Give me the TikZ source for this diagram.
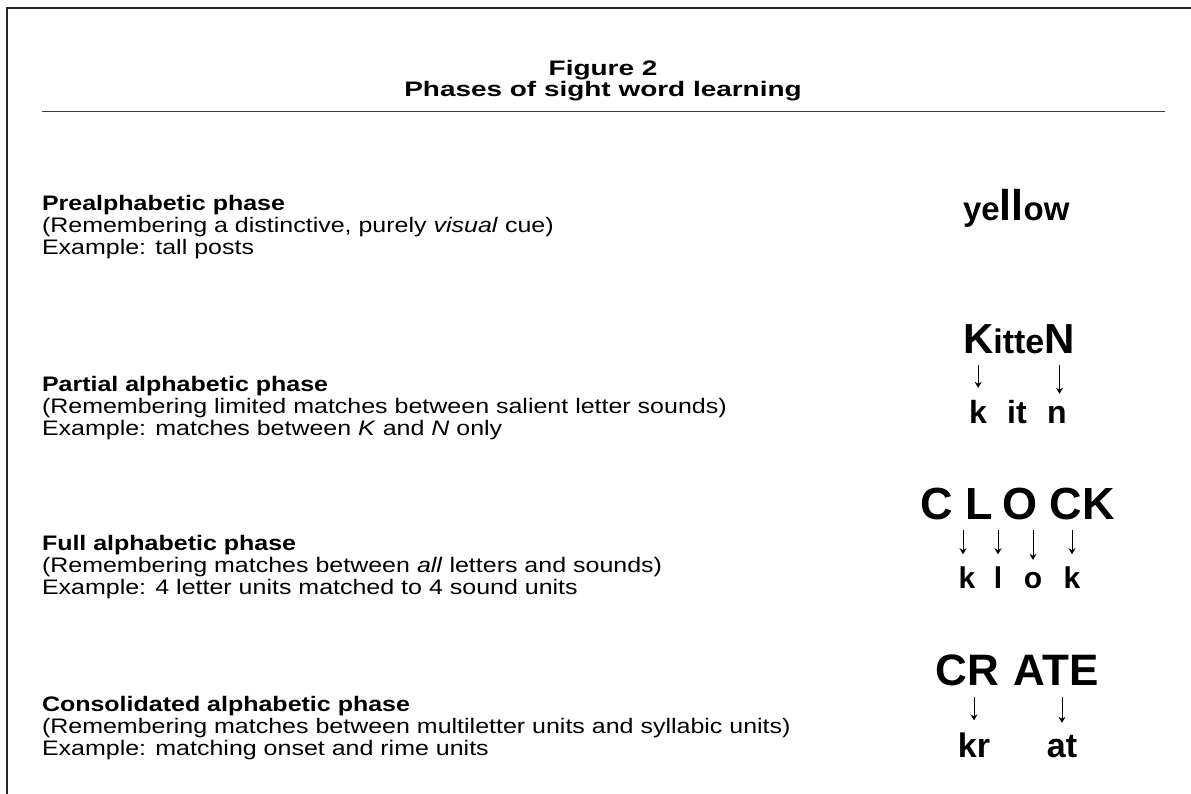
\documentclass[tikz,border=0pt]{standalone}
\usepackage{fontspec}
\setmainfont{Liberation Sans}
\usepackage{graphicx}
\usetikzlibrary{arrows.meta}
\newcommand\bodyx[1]{\scalebox{1.19}[1]{#1}}
\newcommand\titlex[1]{\scalebox{1.33}[1]{#1}}
\begin{document}
\begin{tikzpicture}[x=1pt,y=-1pt,
  every node/.style={inner sep=0pt, outer sep=0pt},
  bodytxt/.style={anchor=base west, font=\fontsize{21}{22}\selectfont},
  headtxt/.style={anchor=base west, font=\fontsize{21}{22}\selectfont\bfseries},
  titletxt/.style={anchor=base, font=\fontsize{21}{22}\selectfont\bfseries},
  big/.style={anchor=base, font=\fontsize{#1}{#1}\selectfont\bfseries},
  arr/.style={-{Stealth[length=6pt,width=7pt]}, line width=1pt, shorten >=#1},
  arr/.default=0pt]
\useasboundingbox (0,0) rectangle (1191,794);
\fill[white] (0,0) rectangle (1191,794);
% frame
\coordinate (fTL) at (7,8);
\coordinate (fTR) at (1191,8);
\coordinate (fBL) at (7,794);
\draw[line width=2.2pt, black!85] (fBL) -- (fTL) -- (fTR);
% title
\node[titletxt] (t1) at (603,76) {\titlex{Figure 2}};
\node[titletxt] (t2) at (603,96.5) {\titlex{Phases of sight word learning}};
\coordinate (rL) at (42,112);
\coordinate (rR) at (1165,112);
\draw[line width=1pt, black!75] (rL) -- (rR);
% section 1
\node[headtxt] (a1) at (42,211) {\bodyx{Prealphabetic phase}};
\node[bodytxt] (a2) at (42,233) {\bodyx{(Remembering a distinctive, purely \textit{visual} cue)}};
\node[bodytxt] (a3) at (42,255) {\bodyx{Example: tall posts}};
% section 2
\node[headtxt] (b1) at (42,391) {\bodyx{Partial alphabetic phase}};
\node[bodytxt] (b2) at (42,413) {\bodyx{(Remembering limited matches between salient letter sounds)}};
\node[bodytxt] (b3) at (42,435) {\bodyx{Example: matches between \textit{K} and \textit{N} only}};
% section 3
\node[headtxt] (c1) at (42,550) {\bodyx{Full alphabetic phase}};
\node[bodytxt] (c2) at (42,572) {\bodyx{(Remembering matches between \textit{all} letters and sounds)}};
\node[bodytxt] (c3) at (42,594) {\bodyx{Example: 4 letter units matched to 4 sound units}};
% section 4
\node[headtxt] (d1) at (42,711) {\bodyx{Consolidated alphabetic phase}};
\node[bodytxt] (d2) at (42,733) {\bodyx{(Remembering matches between multiletter units and syllabic units)}};
\node[bodytxt] (d3) at (42,755) {\bodyx{Example: matching onset and rime units}};
% yellow
\node[big=33, anchor=base west] (ye) at (963,221) {ye};
\node[big=43, anchor=base west] (ll) at (ye.base east) {ll};
\node[big=33, anchor=base west] (ow) at (ll.base east) {ow};
% KitteN
\node[big=42, anchor=base west] (K) at (963,353) {K};
\node[big=34, anchor=base west] (itte) at (K.base east) {itte};
\node[big=42, anchor=base west] (N) at (itte.base east) {N};
\node[big=32] (k2) at (978,423) {k};
\node[big=32] (it2) at (1017,423) {it};
\node[big=32] (n2) at (1057,423) {n};
\draw[arr=12pt] ([yshift=-12pt]K.south) -- (K.south |- k2.north);
\draw[arr=12pt] ([yshift=-12pt]N.south) -- (N.south |- n2.north);
% CLOCK
\node[big=45] (C1) at (937,519) {C};
\node[big=45] (L1) at (979,519) {L};
\node[big=45] (O1) at (1020,519) {O};
\node[big=45] (CK) at (1082,519) {CK};
\node[big=30] (k3) at (967,588) {k};
\node[big=30] (l3) at (998,588) {l};
\node[big=30] (o3) at (1033,588) {o};
\node[big=30] (k4) at (1072,588) {k};
\draw[arr=12pt] ([xshift=-4pt,yshift=-11pt]k3.north |- C1.south) -- ([xshift=-4pt]k3.north);
\foreach \n in {l3,o3,k4}{
  \draw[arr=12pt] ([yshift=-11pt]\n.north |- C1.south) -- (\n.north);
}
% CRATE
\node[big=44] (CR) at (967,685) {CR};
\node[big=44] (ATE) at (1056,685) {ATE};
\node[big=34] (kr) at (974,757) {kr};
\node[big=34] (at) at (1062,757) {at};
\draw[arr=12pt] ([yshift=-12pt]kr.north |- CR.south) -- (kr.north);
\draw[arr=12pt] ([yshift=-12pt]at.north |- ATE.south) -- (at.north);
\end{tikzpicture}
\end{document}
